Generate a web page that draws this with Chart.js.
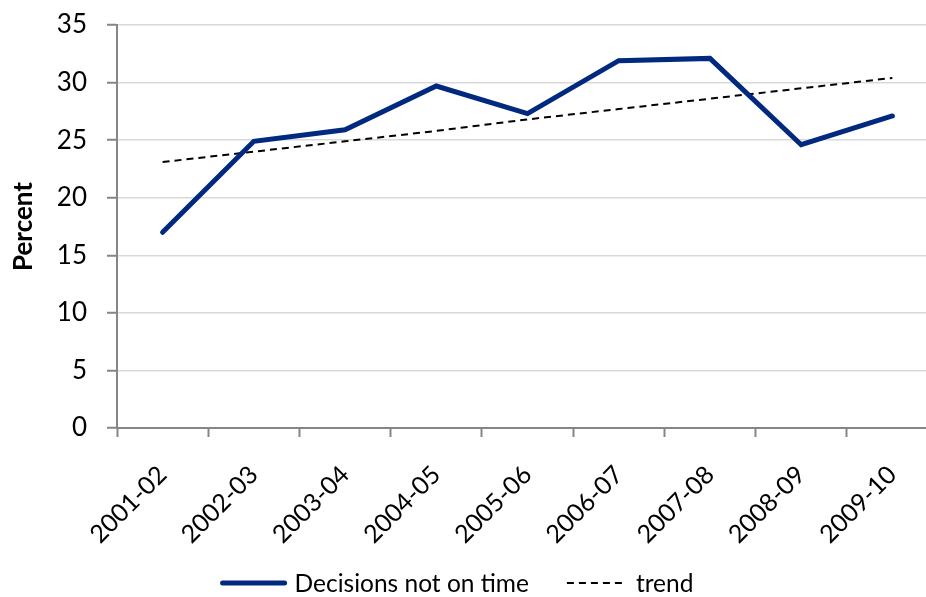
<!DOCTYPE html>
<html>
<head>
<meta charset="utf-8">
<script src="https://cdn.jsdelivr.net/npm/chart.js@4/dist/chart.umd.min.js"></script>
<style>
html,body{margin:0;padding:0;overflow:hidden;background:#fff;width:926px;height:597px;}
canvas{display:block;}
</style>
</head>
<body>
<canvas id="c" width="952" height="597" style="width:952px;height:597px"></canvas>
<script>
const categories = ['2001-02','2002-03','2003-04','2004-05','2005-06','2006-07','2007-08','2008-09','2009-10'];
const decisionsNotOnTime = [17.0, 24.9, 25.9, 29.7, 27.3, 31.9, 32.1, 24.6, 27.1];
const trend = [23.1, 24.0, 24.9, 25.8, 26.8, 27.7, 28.6, 29.5, 30.4];
const yTicks = [0,5,10,15,20,25,30,35];
const seriesNames = ['Decisions not on time','trend'];

const FONT = 'Lato, "Liberation Sans", sans-serif';
const NAVY = '#00297f';

const legendPlugin = {
  id: 'customLegend',
  afterDraw(chart) {
    const ctx = chart.ctx;
    ctx.save();
    ctx.font = '24.5px ' + FONT;
    ctx.textBaseline = 'middle';
    const w1 = ctx.measureText(seriesNames[0]).width;
    const w2 = ctx.measureText(seriesNames[1]).width;
    const s1 = 66, g1 = 8, gap = 38, s2 = 58, g2 = 11;
    const total = s1 + g1 + w1 + gap + s2 + g2 + w2;
    let x = chart.width / 2 - 19 - total / 2;
    const y = chart.height - 14;
    ctx.strokeStyle = NAVY; ctx.lineWidth = 5; ctx.lineCap = 'round';
    ctx.beginPath(); ctx.moveTo(x + 2, y); ctx.lineTo(x + s1 - 2, y); ctx.stroke();
    x += s1 + g1;
    ctx.fillStyle = '#000';
    ctx.fillText(seriesNames[0], x, y + 1);
    x += w1 + gap;
    ctx.strokeStyle = '#000'; ctx.lineWidth = 2; ctx.lineCap = 'butt';
    ctx.setLineDash([7,5]);
    ctx.beginPath(); ctx.moveTo(x, y); ctx.lineTo(x + s2, y); ctx.stroke();
    ctx.setLineDash([]);
    x += s2 + g2;
    ctx.fillText(seriesNames[1], x, y + 1);
    ctx.restore();
  }
};

new Chart(document.getElementById('c'), {
  type: 'line',
  data: {
    labels: categories,
    datasets: [
      { label: seriesNames[0], data: decisionsNotOnTime, borderColor: NAVY, borderWidth: 5,
        pointRadius: 0, tension: 0, fill: false, borderCapStyle: 'round', borderJoinStyle: 'miter' },
      { label: seriesNames[1], data: trend, borderColor: '#000', borderWidth: 2, borderDash: [7,5],
        pointRadius: 0, tension: 0, fill: false }
    ]
  },
  options: {
    responsive: false,
    animation: false,
    layout: { padding: { left: 0, right: 14, top: 25, bottom: 40 } },
    plugins: { legend: { display: false }, tooltip: { enabled: false } },
    scales: {
      x: {
        offset: true,
        grid: { drawOnChartArea: false, offset: true, tickLength: 9, tickColor: '#868686', tickWidth: 2 },
        border: { color: '#868686', width: 2 },
        ticks: { color: '#000', font: { family: FONT, size: 25 }, minRotation: 45, maxRotation: 45, padding: 23 },
        afterFit(s) { s.height = 597 - 428 - 40; s.paddingLeft = 0; s.paddingRight = 0; }
      },
      y: {
        min: 0, max: 35,
        afterBuildTicks(s) { s.ticks = yTicks.map(v => ({ value: v })); },
        grid: { color: '#d9d9d9', lineWidth: 1.5, tickLength: 10, tickColor: '#868686', tickWidth: 2 },
        border: { color: '#868686', width: 2 },
        ticks: { color: '#000', font: { family: FONT, size: 26 }, padding: 20 },
        title: { display: true, text: 'Percent', color: '#000', font: { family: FONT, size: 26, weight: 'bold' }, padding: { top: 8, bottom: 0 } },
        afterFit(s) { s.width = 117; s.paddingTop = 0; s.paddingBottom = 0; }
      }
    }
  },
  plugins: [legendPlugin]
});
</script>
</body>
</html>
